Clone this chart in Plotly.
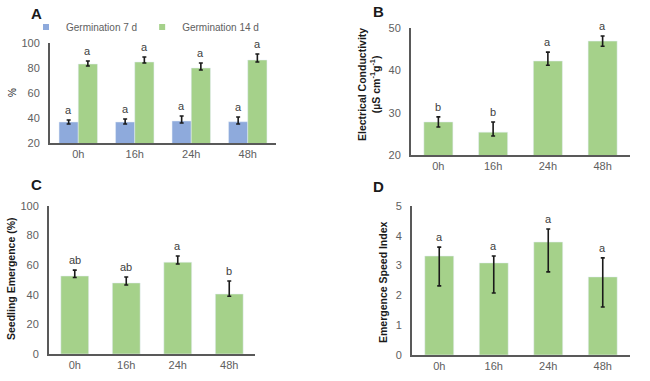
import plotly.graph_objects as go

cats = ["0h", "16h", "24h", "48h"]

# Panel A
series_names = ["Germination 7 d", "Germination 14 d"]
germ7 = [36.8, 36.8, 37.6, 37.0]
germ7_plus = [1.6, 2.4, 4.0, 3.8]
germ7_minus = [1.6, 1.6, 1.6, 1.8]
germ7_letters = ["a", "a", "a", "a"]
germ14 = [83.2, 84.8, 80.0, 86.4]
germ14_plus = [2.4, 4.0, 4.0, 4.8]
germ14_minus = [1.6, 0.8, 1.6, 1.6]
germ14_letters = ["a", "a", "a", "a"]

# Panel B
ec = [27.8, 25.4, 42.2, 46.9]
ec_plus = [1.2, 2.4, 2.1, 1.2]
ec_minus = [1.2, 0.9, 1.0, 1.2]
ec_letters = ["b", "b", "a", "a"]

# Panel C
se = [52.7, 48.0, 62.0, 40.5]
se_plus = [4.0, 4.0, 4.2, 8.8]
se_minus = [1.0, 1.4, 1.2, 1.5]
se_letters = ["ab", "ab", "a", "b"]

# Panel D
esi = [3.32, 3.09, 3.79, 2.62]
esi_plus = [0.30, 0.23, 0.44, 0.64]
esi_minus = [1.00, 1.01, 1.00, 1.01]
esi_letters = ["a", "a", "a", "a"]

GREEN = "#a5d18a"
BLUE = "#8eaadc"
AX = "#595959"
TXT = "#606060"
FONT = "Liberation Sans, Arial, sans-serif"

W, H = 650, 381


def px(x):
    return x / W


def py(y):
    return 1 - y / H


fig = go.Figure()

def err(p, m):
    return dict(type="data", symmetric=False, array=p, arrayminus=m,
                color="#1a1a1a", thickness=1.6, width=2)

fig.add_trace(go.Bar(x=cats, y=germ7, name=series_names[0], marker_color=BLUE, showlegend=False,
                     offset=-0.34, width=0.34, error_y=err(germ7_plus, germ7_minus),
                     xaxis="x", yaxis="y"))
fig.add_trace(go.Bar(x=cats, y=germ14, name=series_names[1], marker_color=GREEN, showlegend=False,
                     offset=0.0, width=0.34, error_y=err(germ14_plus, germ14_minus),
                     xaxis="x", yaxis="y"))
# legend-only entries with small square swatches
for nm, col in zip(series_names, [BLUE, GREEN]):
    fig.add_trace(go.Scatter(x=[None], y=[None], mode="markers", name=nm,
                             marker=dict(symbol="square", size=6, color=col),
                             xaxis="x", yaxis="y"))
fig.add_trace(go.Bar(x=cats, y=ec, marker_color=GREEN, width=0.53, showlegend=False,
                     error_y=err(ec_plus, ec_minus), xaxis="x2", yaxis="y2"))
fig.add_trace(go.Bar(x=cats, y=se, marker_color=GREEN, width=0.54, showlegend=False,
                     error_y=err(se_plus, se_minus), xaxis="x3", yaxis="y3"))
fig.add_trace(go.Bar(x=cats, y=esi, marker_color=GREEN, width=0.53, showlegend=False,
                     error_y=err(esi_plus, esi_minus), xaxis="x4", yaxis="y4"))

annotations = []
def letters(xref, yref, vals, plus, labs, xshift=0.0):
    for i, (v, p, t) in enumerate(zip(vals, plus, labs)):
        annotations.append(dict(x=i + xshift, y=v + p, xref=xref, yref=yref, text=t,
                                showarrow=False, yanchor="bottom", yshift=2,
                                font=dict(size=11, color="#404040", family=FONT)))

letters("x", "y", germ7, germ7_plus, germ7_letters, -0.17)
letters("x", "y", germ14, germ14_plus, germ14_letters, 0.17)
letters("x2", "y2", ec, ec_plus, ec_letters)
letters("x3", "y3", se, se_plus, se_letters)
letters("x4", "y4", esi, esi_plus, esi_letters)

def panel_label(text, x, y):
    annotations.append(dict(x=px(x), y=py(y), xref="paper", yref="paper", text=f"<b>{text}</b>",
                            showarrow=False, xanchor="center", yanchor="middle",
                            font=dict(size=15, color="#1a1a1a", family=FONT)))

panel_label("A", 36, 13)
panel_label("B", 378, 12)
panel_label("C", 36, 184)
panel_label("D", 378, 186)

def ytitle(text, x, y, bold=True, size=10.5):
    annotations.append(dict(x=px(x), y=py(y), xref="paper", yref="paper",
                            text=f"<b>{text}</b>" if bold else text, textangle=-90,
                            showarrow=False, xanchor="center", yanchor="middle",
                            font=dict(size=size, color="#1a1a1a", family=FONT)))

ytitle("%", 12, 93, bold=False, size=10)
ytitle("Electrical Conductivity<br>(µS cm<sup>-1</sup>g<sup>-1</sup>)", 369, 85)
ytitle("Seedling Emergence (%)", 11, 279)
ytitle("Emergence Speed Index", 383, 282)

tickfont = dict(size=11, color=TXT, family=FONT)

def xax(x0, x1, anchor):
    return dict(domain=[px(x0), px(x1)], anchor=anchor, showline=True, linecolor=AX, linewidth=2,
                showgrid=False, ticks="", tickfont=tickfont, fixedrange=True,
                range=[-0.5, 3.5], automargin=False)

def yax(ytop, ybot, anchor, rng, dtick):
    return dict(domain=[py(ybot), py(ytop)], anchor=anchor, showline=True, linecolor=AX, linewidth=2,
                showgrid=False, zeroline=False, ticks="", tickfont=tickfont, range=rng,
                dtick=dtick, ticklabelstandoff=6, automargin=False)

fig.update_layout(
    width=W, height=H,
    margin=dict(l=0, r=0, t=0, b=0, autoexpand=False),
    paper_bgcolor="white", plot_bgcolor="white",
    font=dict(family=FONT),
    xaxis=xax(50, 276, "y"),
    yaxis=yax(43, 143, "x", [20, 100], 20),
    xaxis2=xax(411, 630, "y2"),
    yaxis2=yax(28, 155, "x2", [20, 50], 10),
    xaxis3=xax(49, 255, "y3"),
    yaxis3=yax(206, 354, "x3", [0, 100], 20),
    xaxis4=xax(412, 630, "y4"),
    yaxis4=yax(206, 355, "x4", [0, 5], 1),
    legend=dict(orientation="h", x=px(26), y=py(27), xanchor="left", yanchor="middle",
                font=dict(size=10, color=TXT, family=FONT), itemwidth=30,
                bgcolor="rgba(0,0,0,0)", tracegroupgap=0),
    annotations=annotations,
    showlegend=True,
)

fig.write_html("out.html", config={"displayModeBar": False},
               post_script="document.body.style.margin='0';")
